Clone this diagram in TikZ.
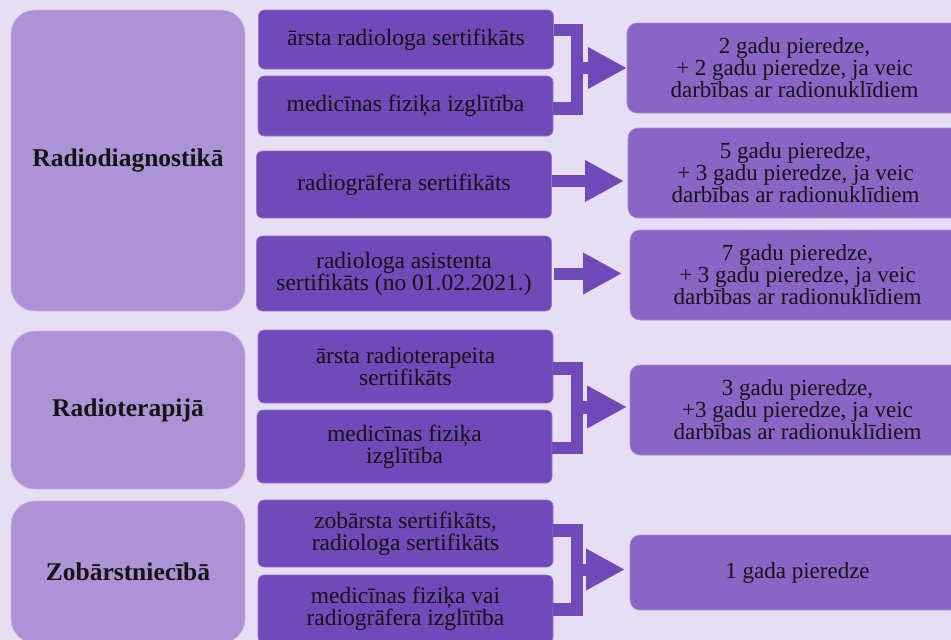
\documentclass[tikz,border=0pt]{standalone}
\usepackage{fontspec}
\setmainfont{Liberation Serif}
\usetikzlibrary{arrows.meta}
\definecolor{bgc}{HTML}{E6DEF3}
\definecolor{leftc}{HTML}{AD93D6}
\definecolor{midc}{HTML}{6F4AB8}
\definecolor{rightc}{HTML}{8966C6}
\definecolor{txt}{HTML}{141414}
\tikzset{
  lbox/.style={fill=leftc, draw=leftc!70!white, line width=0.6pt, rounded corners=24pt, inner sep=0pt, outer sep=0pt,
    font=\fontsize{25.5}{27}\selectfont\bfseries, text=txt, align=center},
  mbox/.style={fill=midc, draw=midc!75!white, line width=0.6pt, rounded corners=6pt, inner sep=0pt, outer sep=0pt,
    minimum width=295pt, font=\fontsize{23.5}{22}\selectfont, text=txt, align=center},
  rbox/.style={fill=rightc, draw=rightc!75!white, line width=0.6pt, rounded corners=10pt, inner sep=0pt, outer sep=0pt,
    minimum width=335pt, minimum height=90pt, font=\fontsize{23}{20}\selectfont, text=txt, align=center},
  brk/.style={draw=midc, line width=12.5pt, line join=miter, line cap=butt},
  arr/.style={draw=midc, line width=12pt, line cap=butt, -{Triangle[length=39pt,width=39pt]}},
}
\begin{document}
\begin{tikzpicture}[x=1pt,y=-1pt]
\useasboundingbox (0,0) rectangle (951,640);
\clip (0,0) rectangle (951,640);
\fill[bgc] (-5,-5) rectangle (960,650);

% left category boxes
\node[lbox, minimum width=234pt, minimum height=301pt] (L1) at (128,160.5) {Radiodiagnostikā};
\node[lbox, minimum width=234pt, minimum height=158pt] (L2) at (128,410) {Radioterapijā};
\node[lbox, minimum width=234pt, minimum height=142pt] (L3) at (128,572) {Zobārstniecībā};

% middle boxes
\node[mbox, minimum height=59pt] (M1) at (406,39.5) {ārsta radiologa sertifikāts};
\node[mbox, minimum height=60pt] (M2) at (405.5,106) {medicīnas fiziķa izglītība};
\node[mbox, minimum height=67pt] (M3) at (404,184.5) {radiogrāfera sertifikāts};
\node[mbox, minimum height=75pt] (M4) at (404,273.5) {radiologa asistenta\\sertifikāts (no 01.02.2021.)};
\node[mbox, minimum height=73pt] (M5) at (405.5,366.5) {ārsta radioterapeita\\sertifikāts};
\node[mbox, minimum height=73pt] (M6) at (404.5,446.5) {medicīnas fiziķa\\izglītība};
\node[mbox, minimum height=67pt] (M7) at (405.5,533.5) {zobārsta sertifikāts,\\radiologa sertifikāts};
\node[mbox, minimum height=68pt] (M8) at (405.5,609) {medicīnas fiziķa vai\\radiogrāfera izglītība};

% right boxes
\node[rbox] (R1) at (794.5,68) {2 gadu pieredze,\\+ 2 gadu pieredze, ja veic\\darbības ar radionuklīdiem};
\node[rbox] (R2) at (795.5,173) {5 gadu pieredze,\\+ 3 gadu pieredze, ja veic\\darbības ar radionuklīdiem};
\node[rbox] (R3) at (797.5,275) {7 gadu pieredze,\\+ 3 gadu pieredze, ja veic\\darbības ar radionuklīdiem};
\node[rbox] (R4) at (797.5,410) {3 gadu pieredze,\\+3 gadu pieredze, ja veic\\darbības ar radionuklīdiem};
\node[rbox, minimum height=75pt] (R5) at (797.5,572.5) {1 gada pieredze};

% bracket 1
\draw[brk] ([yshift=9.5pt]M1.east) -- ++(23.5,0) |- ([yshift=-2.5pt]M2.east);
\coordinate (B1) at ([xshift=23pt,yshift=-28.5pt]M1.east);
\draw[arr] (B1) -- (B1 -| R1.west);

% arrow 2
\draw[arr] ([yshift=3.5pt]M3.east) -- ([yshift=3.5pt,xshift=-4pt]M3.east -| R2.west);

% arrow 3
\draw[arr] ([xshift=2pt]M4.east) -- ([xshift=-8pt]M4.east -| R3.west);

% bracket 2
\draw[brk] ([yshift=-2pt]M5.east) -- ++(24,0) |- ([yshift=-1.5pt]M6.east);
\coordinate (B2) at ([xshift=23pt,yshift=-40.5pt]M5.east);
\draw[arr, line width=13pt, -{Triangle[length=40pt,width=40pt]}] (B2) -- ([xshift=-3pt]B2 -| R4.west);

% bracket 3
\draw[brk] ([yshift=3pt]M7.east) -- ++(24,0) |- ([yshift=-0.5pt]M8.east);
\coordinate (B3) at ([xshift=23pt,yshift=-36pt]M7.east);
\draw[arr, -{Triangle[length=39pt,width=39pt]}] (B3) -- ([xshift=-5pt]B3 -| R5.west);
\end{tikzpicture}
\end{document}
